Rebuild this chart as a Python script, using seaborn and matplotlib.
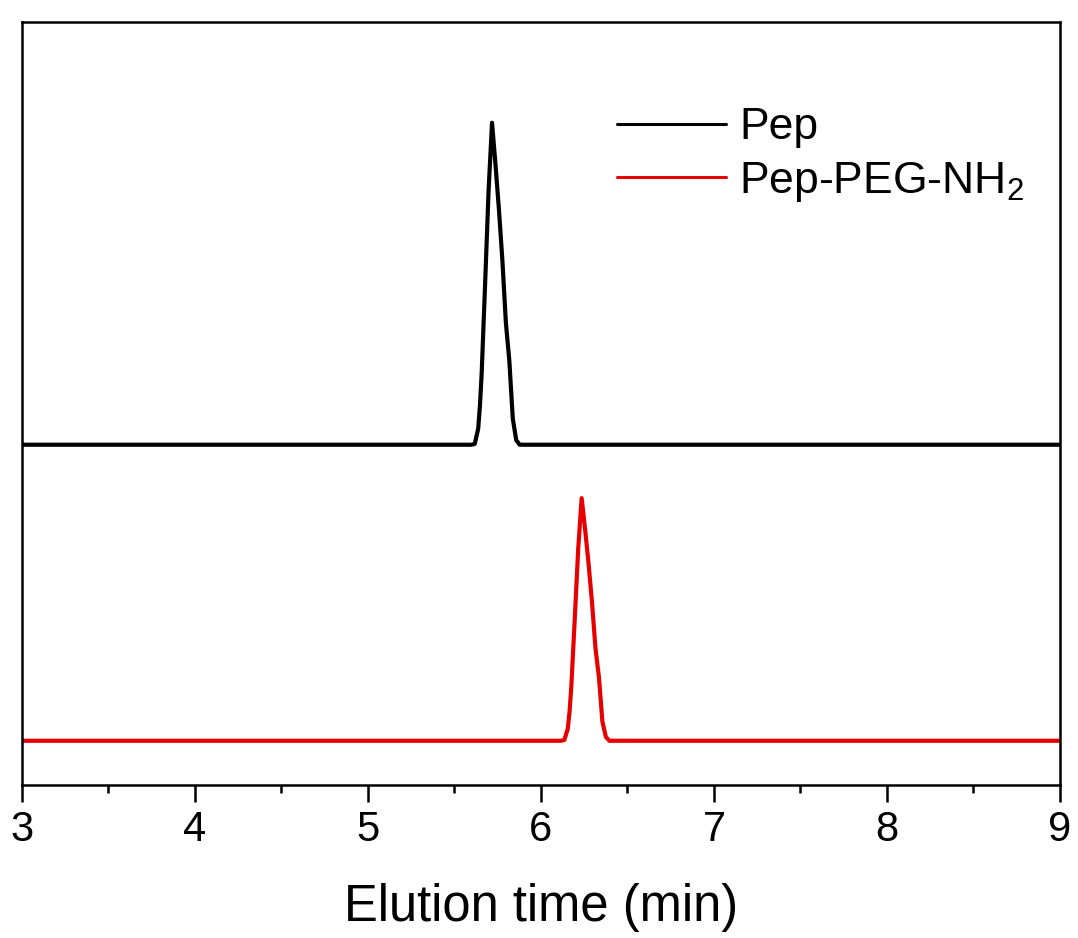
import numpy as np
import pandas as pd
import matplotlib.pyplot as plt
import seaborn as sns

# Chromatogram traces (offset, arbitrary units)
pep_time = [3.0, 5.597, 5.617, 5.637, 5.647, 5.657, 5.677, 5.697, 5.717,
            5.737, 5.757, 5.777, 5.797, 5.817, 5.837, 5.857, 5.877, 9.0]
pep_signal = [0.446, 0.446, 0.447, 0.467, 0.497, 0.539, 0.657, 0.779, 0.868,
              0.813, 0.754, 0.687, 0.606, 0.556, 0.480, 0.452, 0.446, 0.446]

peg_time = [3.0, 6.115, 6.135, 6.155, 6.165, 6.175, 6.195, 6.215, 6.235,
            6.255, 6.275, 6.295, 6.315, 6.335, 6.355, 6.375, 6.395, 9.0]
peg_signal = [0.058, 0.058, 0.059, 0.074, 0.096, 0.128, 0.217, 0.309, 0.376,
              0.335, 0.290, 0.239, 0.179, 0.141, 0.083, 0.063, 0.058, 0.058]

labels = ["Pep", "Pep-PEG-NH$_2$"]

df = pd.concat([
    pd.DataFrame({"time": pep_time, "signal": pep_signal, "sample": labels[0]}),
    pd.DataFrame({"time": peg_time, "signal": peg_signal, "sample": labels[1]}),
])

sns.set_style("white")
plt.rcParams["font.family"] = ["Liberation Sans", "DejaVu Sans"]
plt.rcParams["mathtext.fontset"] = "custom"
plt.rcParams["mathtext.rm"] = "Liberation Sans"
plt.rcParams["mathtext.it"] = "Liberation Sans"
plt.rcParams["text.color"] = "black"
plt.rcParams["axes.labelcolor"] = "black"
plt.rcParams["xtick.color"] = "black"
plt.rcParams["lines.solid_joinstyle"] = "round"

fig = plt.figure(figsize=(10.78, 9.38), dpi=100)
ax = fig.add_axes([0.0204, 0.1631, 0.9629, 0.8134])

sns.lineplot(data=df, x="time", y="signal", hue="sample", sort=False,
             palette=["black", "#e60000"], linewidth=3.0, ax=ax)

ax.set_xlim(3, 9)
ax.set_ylim(0, 1)
ax.set_xticks(np.arange(3, 10, 1))
ax.set_xticks(np.arange(3.5, 9, 1), minor=True)
ax.set_yticks([])
ax.tick_params(axis="x", which="major", direction="out", length=12, width=1.8,
               labelsize=30, pad=6, bottom=True)
ax.tick_params(axis="x", which="minor", direction="out", length=6, width=1.8,
               bottom=True)
for s in ax.spines.values():
    s.set_linewidth(1.8)
    s.set_color("black")

ax.set_xlabel("Elution time (min)", fontsize=36.5, labelpad=24)
ax.set_ylabel("")

leg = ax.legend(loc="upper left", bbox_to_anchor=(0.573, 0.888), frameon=False,
                fontsize=32, handlelength=2.45, handletextpad=0.3,
                labelspacing=0.25, borderpad=0, borderaxespad=0)
for line in leg.get_lines():
    line.set_linewidth(2.2)

fig.savefig("out.png", dpi=100)
